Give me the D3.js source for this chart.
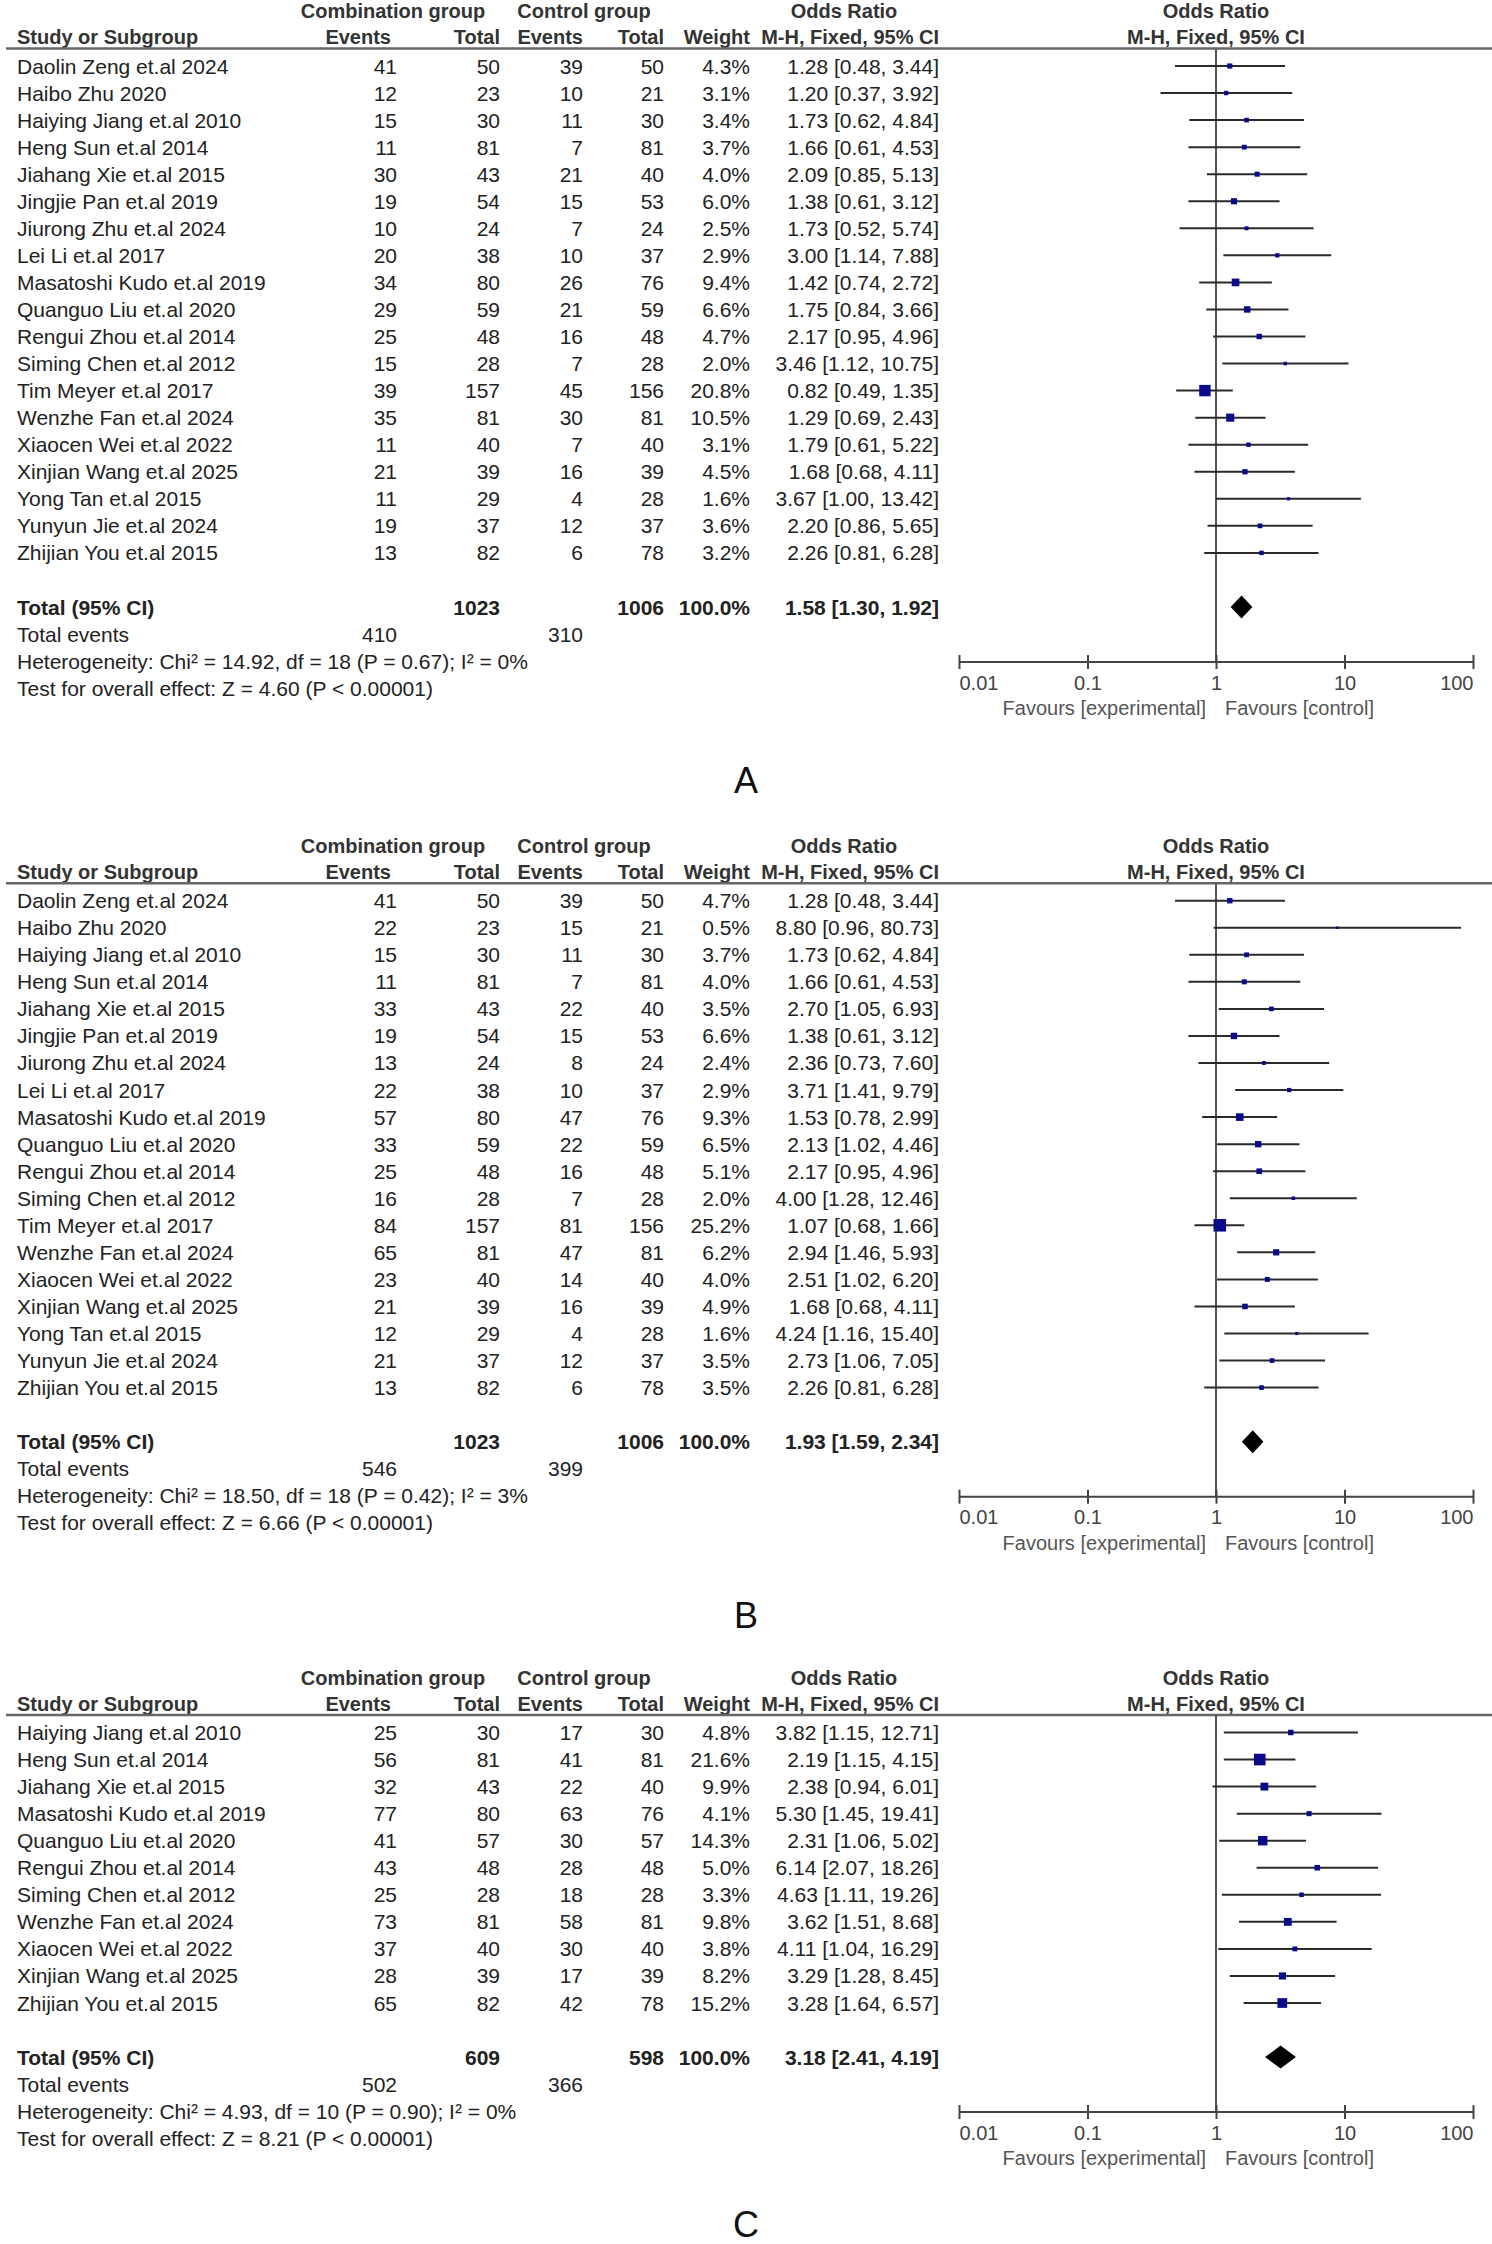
<!DOCTYPE html>
<html>
<head>
<meta charset="utf-8">
<script src="https://cdn.jsdelivr.net/npm/d3@7"></script>
<style>
  body { margin: 0; background: #fff; }
  svg { display: block; }
</style>
</head>
<body>
<svg id="chart"></svg>
<script>
// ---- data ----
const studiesAB = [
  "Daolin Zeng et.al 2024", "Haibo Zhu 2020", "Haiying Jiang et.al 2010", "Heng Sun et.al 2014",
  "Jiahang Xie et.al 2015", "Jingjie Pan et.al 2019", "Jiurong Zhu et.al 2024", "Lei Li et.al 2017",
  "Masatoshi Kudo et.al 2019", "Quanguo Liu et.al 2020", "Rengui Zhou et.al 2014", "Siming Chen et.al 2012",
  "Tim Meyer et.al 2017", "Wenzhe Fan et.al 2024", "Xiaocen Wei et.al 2022", "Xinjian Wang et.al 2025",
  "Yong Tan et.al 2015", "Yunyun Jie et.al 2024", "Zhijian You et.al 2015"
];

// Panel A
const eventsExpA = [41, 12, 15, 11, 30, 19, 10, 20, 34, 29, 25, 15, 39, 35, 11, 21, 11, 19, 13];
const totalExpA  = [50, 23, 30, 81, 43, 54, 24, 38, 80, 59, 48, 28, 157, 81, 40, 39, 29, 37, 82];
const eventsCtlA = [39, 10, 11, 7, 21, 15, 7, 10, 26, 21, 16, 7, 45, 30, 7, 16, 4, 12, 6];
const totalCtlA  = [50, 21, 30, 81, 40, 53, 24, 37, 76, 59, 48, 28, 156, 81, 40, 39, 28, 37, 78];
const weightA    = [4.3, 3.1, 3.4, 3.7, 4.0, 6.0, 2.5, 2.9, 9.4, 6.6, 4.7, 2.0, 20.8, 10.5, 3.1, 4.5, 1.6, 3.6, 3.2];
const orA        = [1.28, 1.20, 1.73, 1.66, 2.09, 1.38, 1.73, 3.00, 1.42, 1.75, 2.17, 3.46, 0.82, 1.29, 1.79, 1.68, 3.67, 2.20, 2.26];
const lowerA     = [0.48, 0.37, 0.62, 0.61, 0.85, 0.61, 0.52, 1.14, 0.74, 0.84, 0.95, 1.12, 0.49, 0.69, 0.61, 0.68, 1.00, 0.86, 0.81];
const upperA     = [3.44, 3.92, 4.84, 4.53, 5.13, 3.12, 5.74, 7.88, 2.72, 3.66, 4.96, 10.75, 1.35, 2.43, 5.22, 4.11, 13.42, 5.65, 6.28];
const totalsA      = [1023, 1006];
const totalEventsA = [410, 310];
const pooledA      = [1.58, 1.30, 1.92];
const hetA    = "Heterogeneity: Chi\u00b2 = 14.92, df = 18 (P = 0.67); I\u00b2 = 0%";
const effectA = "Test for overall effect: Z = 4.60 (P < 0.00001)";

// Panel B
const eventsExpB = [41, 22, 15, 11, 33, 19, 13, 22, 57, 33, 25, 16, 84, 65, 23, 21, 12, 21, 13];
const totalExpB  = [50, 23, 30, 81, 43, 54, 24, 38, 80, 59, 48, 28, 157, 81, 40, 39, 29, 37, 82];
const eventsCtlB = [39, 15, 11, 7, 22, 15, 8, 10, 47, 22, 16, 7, 81, 47, 14, 16, 4, 12, 6];
const totalCtlB  = [50, 21, 30, 81, 40, 53, 24, 37, 76, 59, 48, 28, 156, 81, 40, 39, 28, 37, 78];
const weightB    = [4.7, 0.5, 3.7, 4.0, 3.5, 6.6, 2.4, 2.9, 9.3, 6.5, 5.1, 2.0, 25.2, 6.2, 4.0, 4.9, 1.6, 3.5, 3.5];
const orB        = [1.28, 8.80, 1.73, 1.66, 2.70, 1.38, 2.36, 3.71, 1.53, 2.13, 2.17, 4.00, 1.07, 2.94, 2.51, 1.68, 4.24, 2.73, 2.26];
const lowerB     = [0.48, 0.96, 0.62, 0.61, 1.05, 0.61, 0.73, 1.41, 0.78, 1.02, 0.95, 1.28, 0.68, 1.46, 1.02, 0.68, 1.16, 1.06, 0.81];
const upperB     = [3.44, 80.73, 4.84, 4.53, 6.93, 3.12, 7.60, 9.79, 2.99, 4.46, 4.96, 12.46, 1.66, 5.93, 6.20, 4.11, 15.40, 7.05, 6.28];
const totalsB      = [1023, 1006];
const totalEventsB = [546, 399];
const pooledB      = [1.93, 1.59, 2.34];
const hetB    = "Heterogeneity: Chi\u00b2 = 18.50, df = 18 (P = 0.42); I\u00b2 = 3%";
const effectB = "Test for overall effect: Z = 6.66 (P < 0.00001)";

// Panel C
const studiesC = [
  "Haiying Jiang et.al 2010", "Heng Sun et.al 2014", "Jiahang Xie et.al 2015", "Masatoshi Kudo et.al 2019",
  "Quanguo Liu et.al 2020", "Rengui Zhou et.al 2014", "Siming Chen et.al 2012", "Wenzhe Fan et.al 2024",
  "Xiaocen Wei et.al 2022", "Xinjian Wang et.al 2025", "Zhijian You et.al 2015"
];
const eventsExpC = [25, 56, 32, 77, 41, 43, 25, 73, 37, 28, 65];
const totalExpC  = [30, 81, 43, 80, 57, 48, 28, 81, 40, 39, 82];
const eventsCtlC = [17, 41, 22, 63, 30, 28, 18, 58, 30, 17, 42];
const totalCtlC  = [30, 81, 40, 76, 57, 48, 28, 81, 40, 39, 78];
const weightC    = [4.8, 21.6, 9.9, 4.1, 14.3, 5.0, 3.3, 9.8, 3.8, 8.2, 15.2];
const orC        = [3.82, 2.19, 2.38, 5.30, 2.31, 6.14, 4.63, 3.62, 4.11, 3.29, 3.28];
const lowerC     = [1.15, 1.15, 0.94, 1.45, 1.06, 2.07, 1.11, 1.51, 1.04, 1.28, 1.64];
const upperC     = [12.71, 4.15, 6.01, 19.41, 5.02, 18.26, 19.26, 8.68, 16.29, 8.45, 6.57];
const totalsC      = [609, 598];
const totalEventsC = [502, 366];
const pooledC      = [3.18, 2.41, 4.19];
const hetC    = "Heterogeneity: Chi\u00b2 = 4.93, df = 10 (P = 0.90); I\u00b2 = 0%";
const effectC = "Test for overall effect: Z = 8.21 (P < 0.00001)";

const axisTicks  = [0.01, 0.1, 1, 10, 100];
const tickLabels = ["0.01", "0.1", "1", "10", "100"];
const panelLabels = ["A", "B", "C"];

// ---- layout ----
const W = 1492, H = 2244;
const FONT = "'Liberation Sans', Arial, sans-serif";
const panelTops = [0, 834.7, 1666.5];
const letterOffset = [131, 131, 125];
const rowStep = 27.05;
const col = { name: 17, ev1: 397, tot1: 500, ev2: 583, tot2: 664, weight: 750, ci: 939 };

const x = d3.scaleLog().domain([0.01, 100]).range([959, 1473]);

const svg = d3.select("#chart").attr("width", W).attr("height", H)
  .style("font-family", FONT);

function fmtCI(or, lo, hi) {
  return `${or.toFixed(2)} [${lo.toFixed(2)}, ${hi.toFixed(2)}]`;
}

const panels = [
  { studies: studiesAB, ee: eventsExpA, te: totalExpA, ec: eventsCtlA, tc: totalCtlA, w: weightA,
    or: orA, lo: lowerA, hi: upperA, totals: totalsA, events: totalEventsA, pooled: pooledA, het: hetA, eff: effectA },
  { studies: studiesAB, ee: eventsExpB, te: totalExpB, ec: eventsCtlB, tc: totalCtlB, w: weightB,
    or: orB, lo: lowerB, hi: upperB, totals: totalsB, events: totalEventsB, pooled: pooledB, het: hetB, eff: effectB },
  { studies: studiesC, ee: eventsExpC, te: totalExpC, ec: eventsCtlC, tc: totalCtlC, w: weightC,
    or: orC, lo: lowerC, hi: upperC, totals: totalsC, events: totalEventsC, pooled: pooledC, het: hetC, eff: effectC }
];

panels.forEach((p, pi) => {
  const g = svg.append("g").attr("transform", `translate(0,${panelTops[pi]})`);
  const n = p.studies.length;
  const y = d3.scaleLinear().domain([0, 1]).range([66, 66 + rowStep]);
  const yTotal = y(n + 1);
  const yAxis = yTotal + 55;

  // header
  const h1 = g.append("g").attr("font-weight", "bold").attr("font-size", 20).attr("fill", "#333");
  const head1 = [
    { t: "Combination group", x: 393, a: "middle" },
    { t: "Control group", x: 584, a: "middle" },
    { t: "Odds Ratio", x: 844, a: "middle" },
    { t: "Odds Ratio", x: x(1), a: "middle" }
  ];
  h1.selectAll("text.h1").data(head1).join("text")
    .attr("x", d => d.x).attr("y", 18).attr("text-anchor", d => d.a).text(d => d.t);
  const head2 = [
    { t: "Study or Subgroup", x: col.name, a: "start" },
    { t: "Events", x: col.ev1 - 6, a: "end" },
    { t: "Total", x: col.tot1, a: "end" },
    { t: "Events", x: col.ev2, a: "end" },
    { t: "Total", x: col.tot2, a: "end" },
    { t: "Weight", x: col.weight, a: "end" },
    { t: "M-H, Fixed, 95% CI", x: col.ci, a: "end" },
    { t: "M-H, Fixed, 95% CI", x: x(1), a: "middle" }
  ];
  h1.selectAll("text.h2").data(head2).join("text").attr("class", "h2")
    .attr("x", d => d.x).attr("y", 44).attr("text-anchor", d => d.a).text(d => d.t);

  g.append("line").attr("x1", 6).attr("x2", W).attr("y1", 48.5).attr("y2", 48.5)
    .attr("stroke", "#666").attr("stroke-width", 2.5);

  // study rows
  const rows = g.append("g").attr("font-size", 21).attr("fill", "#222");
  const idx = d3.range(n);
  const cells = [
    { k: i => p.studies[i], x: col.name, a: "start" },
    { k: i => p.ee[i], x: col.ev1, a: "end" },
    { k: i => p.te[i], x: col.tot1, a: "end" },
    { k: i => p.ec[i], x: col.ev2, a: "end" },
    { k: i => p.tc[i], x: col.tot2, a: "end" },
    { k: i => p.w[i].toFixed(1) + "%", x: col.weight, a: "end" },
    { k: i => fmtCI(p.or[i], p.lo[i], p.hi[i]), x: col.ci, a: "end" }
  ];
  cells.forEach(c => {
    rows.selectAll(null).data(idx).join("text")
      .attr("x", c.x).attr("y", i => y(i) + 7.5).attr("text-anchor", c.a).text(c.k);
  });

  // totals row
  const tot = g.append("g").attr("font-size", 21).attr("font-weight", "bold").attr("fill", "#222");
  const totCells = [
    { t: "Total (95% CI)", x: col.name, a: "start" },
    { t: p.totals[0], x: col.tot1, a: "end" },
    { t: p.totals[1], x: col.tot2, a: "end" },
    { t: "100.0%", x: col.weight, a: "end" },
    { t: fmtCI(p.pooled[0], p.pooled[1], p.pooled[2]), x: col.ci, a: "end" }
  ];
  tot.selectAll("text").data(totCells).join("text")
    .attr("x", d => d.x).attr("y", yTotal + 7.5).attr("text-anchor", d => d.a).text(d => d.t);

  const foot = g.append("g").attr("font-size", 21).attr("fill", "#222");
  const footCells = [
    { t: "Total events", x: col.name, y: y(n + 2), a: "start" },
    { t: p.events[0], x: col.ev1, y: y(n + 2), a: "end" },
    { t: p.events[1], x: col.ev2, y: y(n + 2), a: "end" },
    { t: p.het, x: col.name, y: y(n + 3), a: "start" },
    { t: p.eff, x: col.name, y: y(n + 4), a: "start" }
  ];
  foot.selectAll("text").data(footCells).join("text")
    .attr("x", d => d.x).attr("y", d => d.y + 7.5).attr("text-anchor", d => d.a).text(d => d.t);

  // line of no effect
  g.append("line").attr("x1", x(1)).attr("x2", x(1)).attr("y1", 49).attr("y2", yAxis)
    .attr("stroke", "#555").attr("stroke-width", 2);

  // CI lines and boxes
  const plot = g.append("g");
  plot.selectAll("line.ci").data(idx).join("line").attr("class", "ci")
    .attr("x1", i => x(Math.max(p.lo[i], 0.01))).attr("x2", i => x(Math.min(p.hi[i], 100)))
    .attr("y1", i => y(i)).attr("y2", i => y(i))
    .attr("stroke", "#2a2a2a").attr("stroke-width", 2);
  const side = w => Math.max(2.5, 2.5 * Math.sqrt(w));
  plot.selectAll("rect.box").data(idx).join("rect").attr("class", "box")
    .attr("x", i => x(p.or[i]) - side(p.w[i]) / 2)
    .attr("y", i => y(i) - side(p.w[i]) / 2)
    .attr("width", i => side(p.w[i])).attr("height", i => side(p.w[i]))
    .attr("fill", "#0b0b8a");

  // pooled diamond
  const dh = 11.5;
  plot.append("path")
    .attr("d", `M${x(p.pooled[1])},${yTotal} L${x(p.pooled[0])},${yTotal - dh} L${x(p.pooled[2])},${yTotal} L${x(p.pooled[0])},${yTotal + dh} Z`)
    .attr("fill", "#000");

  // axis
  const ax = g.append("g").attr("transform", `translate(0,${yAxis})`)
    .call(d3.axisBottom(x).tickValues(axisTicks).tickSize(7).tickFormat((d, i) => tickLabels[i]));
  ax.select(".domain").attr("stroke", "#444").attr("stroke-width", 2).attr("d", `M${x(0.01)},0H${x(100)}`);
  ax.selectAll(".tick line").attr("y1", -7).attr("y2", 7).attr("stroke", "#444").attr("stroke-width", 2);
  ax.selectAll(".tick text")
    .attr("y", 13.5).attr("dy", "0.71em")
    .attr("font-size", 20).attr("font-family", FONT).attr("fill", "#444")
    .attr("text-anchor", (d, i) => i === 0 ? "start" : (i === axisTicks.length - 1 ? "end" : "middle"));

  g.append("text").attr("x", x(1) - 10).attr("y", yAxis + 53).attr("text-anchor", "end")
    .attr("font-size", 20).attr("fill", "#555").text("Favours [experimental]");
  g.append("text").attr("x", x(1) + 9).attr("y", yAxis + 53).attr("text-anchor", "start")
    .attr("font-size", 20).attr("fill", "#555").text("Favours [control]");

  // panel letter
  g.append("text").attr("x", 746).attr("y", yAxis + letterOffset[pi]).attr("text-anchor", "middle")
    .attr("font-size", 36).attr("fill", "#111").text(panelLabels[pi]);
});
</script>
</body>
</html>
